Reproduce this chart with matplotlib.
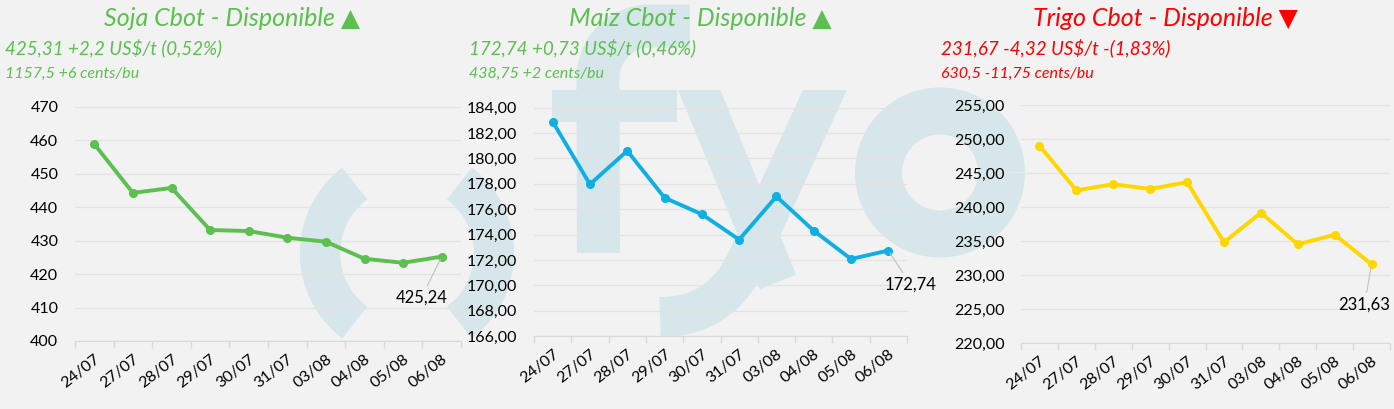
import matplotlib
matplotlib.use("Agg")
import numpy as np
import matplotlib.pyplot as plt
from matplotlib.patches import Arc, PathPatch, Rectangle
from matplotlib.path import Path
from matplotlib.ticker import FuncFormatter, MultipleLocator

# ---------------- data ----------------
dates = ["24/07", "27/07", "28/07", "29/07", "30/07", "31/07", "03/08", "04/08", "05/08", "06/08"]

soja = [458.9, 444.3, 445.8, 433.2, 432.9, 430.9, 429.7, 424.6, 423.4, 425.24]
maiz = [182.9, 177.96, 180.6, 176.9, 175.6, 173.6, 177.0, 174.3, 172.07, 172.74]
trigo = [249.06, 242.5, 243.4, 242.7, 243.7, 234.85, 239.2, 234.56, 235.97, 231.63]

titles = ["Soja Cbot - Disponible \u25B2", "Ma\u00edz Cbot - Disponible \u25B2", "Trigo Cbot - Disponible \u25BC"]
sub1 = ["425,31 +2,2 US$/t (0,52%)", "172,74 +0,73 US$/t (0,46%)", "231,67 -4,32 US$/t -(1,83%)"]
sub2 = ["1157,5 +6 cents/bu", "438,75 +2 cents/bu", "630,5 -11,75 cents/bu"]
last_labels = ["425,24", "172,74", "231,63"]

# ---------------- style ----------------
W, H = 1394, 409
BG = "#f2f2f2"
GREEN = "#5cbf4f"
RED = "#ff0000"
WM = "#d7e6ea"
GRID = "#e3e3e3"
line_colors = ["#5cbf4f", "#0fb0e1", "#ffd600"]
head_colors = [GREEN, GREEN, RED]
PT = 0.72  # points per pixel at dpi 100

fig = plt.figure(figsize=(W / 100, H / 100), dpi=100, facecolor=BG)

def fx(px):
    return px / W

def fy(py):
    return 1 - py / H

# ---------------- watermark logo "( )fyo" (pixel-unit background axes) ----------------
bg = fig.add_axes([0, 0, 1, 1], zorder=-5)
bg.set_xlim(0, W)
bg.set_ylim(H, 0)
bg.axis("off")
for t1, t2 in [(127, 233), (-53, 53)]:
    bg.add_patch(Arc((407, 253), 174, 174, theta1=t1, theta2=t2,
                     color=WM, lw=29, capstyle="butt"))
# f
ang = np.linspace(np.pi, np.pi / 2, 20)
fxs = np.concatenate([[598.5], 650 + 52 * np.cos(ang), [690]])
fys = np.concatenate([[253], 78 - 52 * np.sin(ang), [26]])
bg.plot(fxs, fys, color=WM, lw=43 * PT, solid_capstyle="butt", solid_joinstyle="round")
bg.plot([552, 677], [106, 106], color=WM, lw=32 * PT, solid_capstyle="butt")
# y (clipped so that the arm tops are flat at y=90)
clip = Rectangle((0, 90), W, H, transform=bg.transData)
ln, = bg.plot([691, 778], [70, 282], color=WM, lw=39 * PT, solid_capstyle="butt")
ln.set_clip_path(clip)
ypath = Path([(834, 70), (748, 258), (722, 317), (660, 317)],
             [Path.MOVETO, Path.LINETO, Path.CURVE3, Path.CURVE3])
pp = PathPatch(ypath, fill=False, edgecolor=WM, lw=40 * PT, capstyle="butt", joinstyle="round")
bg.add_patch(pp)
pp.set_clip_path(clip)
# o
bg.add_patch(Arc((940, 172.5), 123, 123, theta1=0, theta2=360, color=WM, lw=47 * PT))

# ---------------- axes ----------------
boxes = [  # left, right, top, bottom in px
    (75, 461, 107, 341),
    (534, 907, 107.7, 336),
    (1021, 1390, 105.3, 343.3),
]
series = [soja, maiz, trigo]
ylims = [(400, 470), (166, 184), (220, 255)]
ysteps = [10, 2, 5]
fmts = [lambda v, p: f"{v:.0f}",
        lambda v, p: f"{v:.2f}".replace(".", ","),
        lambda v, p: f"{v:.2f}".replace(".", ",")]
title_cx = [232, 700, 1165]
sub_x = [5, 469, 941]
ann_off = [(-14.5, -29.5), (16, -24.5), (-5, -29)]

TICKFONT = ["Lato", "DejaVu Sans"]

for i in range(3):
    l, r_, t, b = boxes[i]
    ax = fig.add_axes([fx(l), fy(b), (r_ - l) / W, (b - t) / H])
    ax.set_facecolor("none")
    x = list(range(len(dates)))
    ax.plot(x, series[i], color=line_colors[i], lw=2.8, marker="o", ms=5.5,
            solid_capstyle="round", zorder=3, clip_on=False)
    ax.set_xlim(-0.5, len(dates) - 0.5)
    ax.set_ylim(*ylims[i])
    ax.yaxis.set_major_locator(MultipleLocator(ysteps[i]))
    ax.yaxis.set_major_formatter(FuncFormatter(fmts[i]))
    ax.grid(axis="y", color=GRID, lw=1)
    ax.set_axisbelow(True)
    for s in ["top", "right", "left"]:
        ax.spines[s].set_visible(False)
    ax.spines["bottom"].set_color("#d9d9d9")
    ax.set_xticks(x)
    ax.set_xticklabels(dates, rotation=38, ha="right", rotation_mode="anchor",
                       family=TICKFONT, fontsize=11.5, color="#000000")
    ax.set_xticks([v - 0.5 for v in range(len(dates) + 1)], minor=True)
    ax.tick_params(axis="x", which="major", length=0, pad=8)
    ax.tick_params(axis="x", which="minor", length=5, color="#d9d9d9", width=1)
    ax.tick_params(axis="y", length=0, pad=12, labelsize=11.5)
    for lab in ax.get_yticklabels():
        lab.set_family(TICKFONT)
    ax.annotate(last_labels[i], xy=(x[-1], series[i][-1]), xytext=ann_off[i],
                textcoords="offset points", ha="center", va="center",
                fontsize=12, family=TICKFONT, color="#000000",
                arrowprops=dict(arrowstyle="-", color="#c0c0c0", lw=0.8,
                                shrinkA=1, shrinkB=2), zorder=5,
                annotation_clip=False)

    fig.text(fx(title_cx[i]), fy(18), titles[i], ha="center", va="center",
             fontsize=18, style="italic", color=head_colors[i],
             family=["Lato", "DejaVu Sans"])
    fig.text(fx(sub_x[i]), fy(48), sub1[i], ha="left", va="center",
             fontsize=13.5, style="italic", color=head_colors[i],
             family=["Liberation Sans Narrow", "Lato"])
    fig.text(fx(sub_x[i]), fy(74), sub2[i], ha="left", va="center",
             fontsize=11.5, style="italic", color=head_colors[i],
             family=["Liberation Sans Narrow", "Lato"])

fig.savefig("out.png", dpi=100, facecolor=BG)
